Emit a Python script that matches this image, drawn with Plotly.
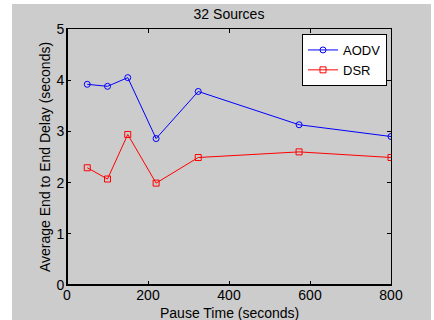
import plotly.graph_objects as go

# Pause time (s) and average end-to-end delay (s) per routing protocol
pause_time = [50, 100, 150, 220, 324, 573, 800]
aodv_delay = [3.92, 3.88, 4.05, 2.86, 3.78, 3.13, 2.90]
dsr_delay = [2.29, 2.07, 2.94, 1.99, 2.49, 2.60, 2.49]
x_ticks = [0, 200, 400, 600, 800]
y_ticks = [0, 1, 2, 3, 4, 5]

FONT = "Liberation Sans, Arial, sans-serif"

fig = go.Figure()
fig.add_trace(go.Scatter(
    x=pause_time, y=aodv_delay, name="AODV", mode="lines+markers",
    line=dict(color="#0000ff", width=1),
    marker=dict(symbol="circle-open", size=6, color="#0000ff", line=dict(width=1)),
))
fig.add_trace(go.Scatter(
    x=pause_time, y=dsr_delay, name="DSR", mode="lines+markers",
    line=dict(color="#ff0000", width=1),
    marker=dict(symbol="square-open", size=6, color="#ff0000", line=dict(width=1)),
))

L, R, T, B = 67, 43, 29, 35
W, H = 434, 320
pw, ph = W - L - R, H - T - B

axis_common = dict(
    showline=True, linecolor="black", linewidth=1, mirror="ticks",
    ticks="inside", ticklen=4, tickcolor="black", showgrid=False,
    zeroline=False, automargin=False, tickfont=dict(size=14, color="black"),
)

fig.update_layout(
    width=W, height=H,
    margin=dict(l=L, r=R, t=T, b=B, autoexpand=False),
    paper_bgcolor="white", plot_bgcolor="white",
    font=dict(family=FONT, color="black"),
    title=dict(text="32 Sources", x=(L + pw / 2) / W, xanchor="center",
               y=1 - 14 / H, yanchor="middle", font=dict(size=14)),
    xaxis=dict(range=[0, 800], tickvals=x_ticks, ticklabelstandoff=-3, **axis_common),
    yaxis=dict(range=[0, 5], tickvals=y_ticks, ticklabelstandoff=-1, **axis_common),
    legend=dict(x=1 - 4 / pw, xanchor="right", y=1 - 5 / ph, yanchor="top",
                bgcolor="white", bordercolor="black", borderwidth=1,
                font=dict(size=13), tracegroupgap=0, itemwidth=30),
    showlegend=True,
    annotations=[
        dict(text="Pause Time (seconds)", xref="paper", yref="paper",
             x=0.5, y=-(313 - (H - B)) / ph, xanchor="center", yanchor="middle",
             showarrow=False, font=dict(size=14)),
        dict(text="Average End to End Delay (seconds)", xref="paper", yref="paper",
             x=-(L - 45) / pw, y=0.5, xanchor="center", yanchor="middle",
             textangle=-90, showarrow=False, font=dict(size=14)),
    ],
    shapes=[
        dict(type="rect", xref="paper", yref="paper", layer="below",
             x0=(12 - L) / pw, x1=(431 - L) / pw,
             y0=(H - B - 320) / ph, y1=(H - B - 4) / ph,
             fillcolor="#cccccc", line=dict(width=0)),
        # heavier left and bottom frame edges
        dict(type="line", xref="paper", yref="paper", x0=0, x1=0, y0=0, y1=1,
             line=dict(color="black", width=2)),
        dict(type="line", xref="paper", yref="paper", x0=0, x1=1, y0=0, y1=0,
             line=dict(color="black", width=2)),
    ],
)

fig.write_html("out.html")
